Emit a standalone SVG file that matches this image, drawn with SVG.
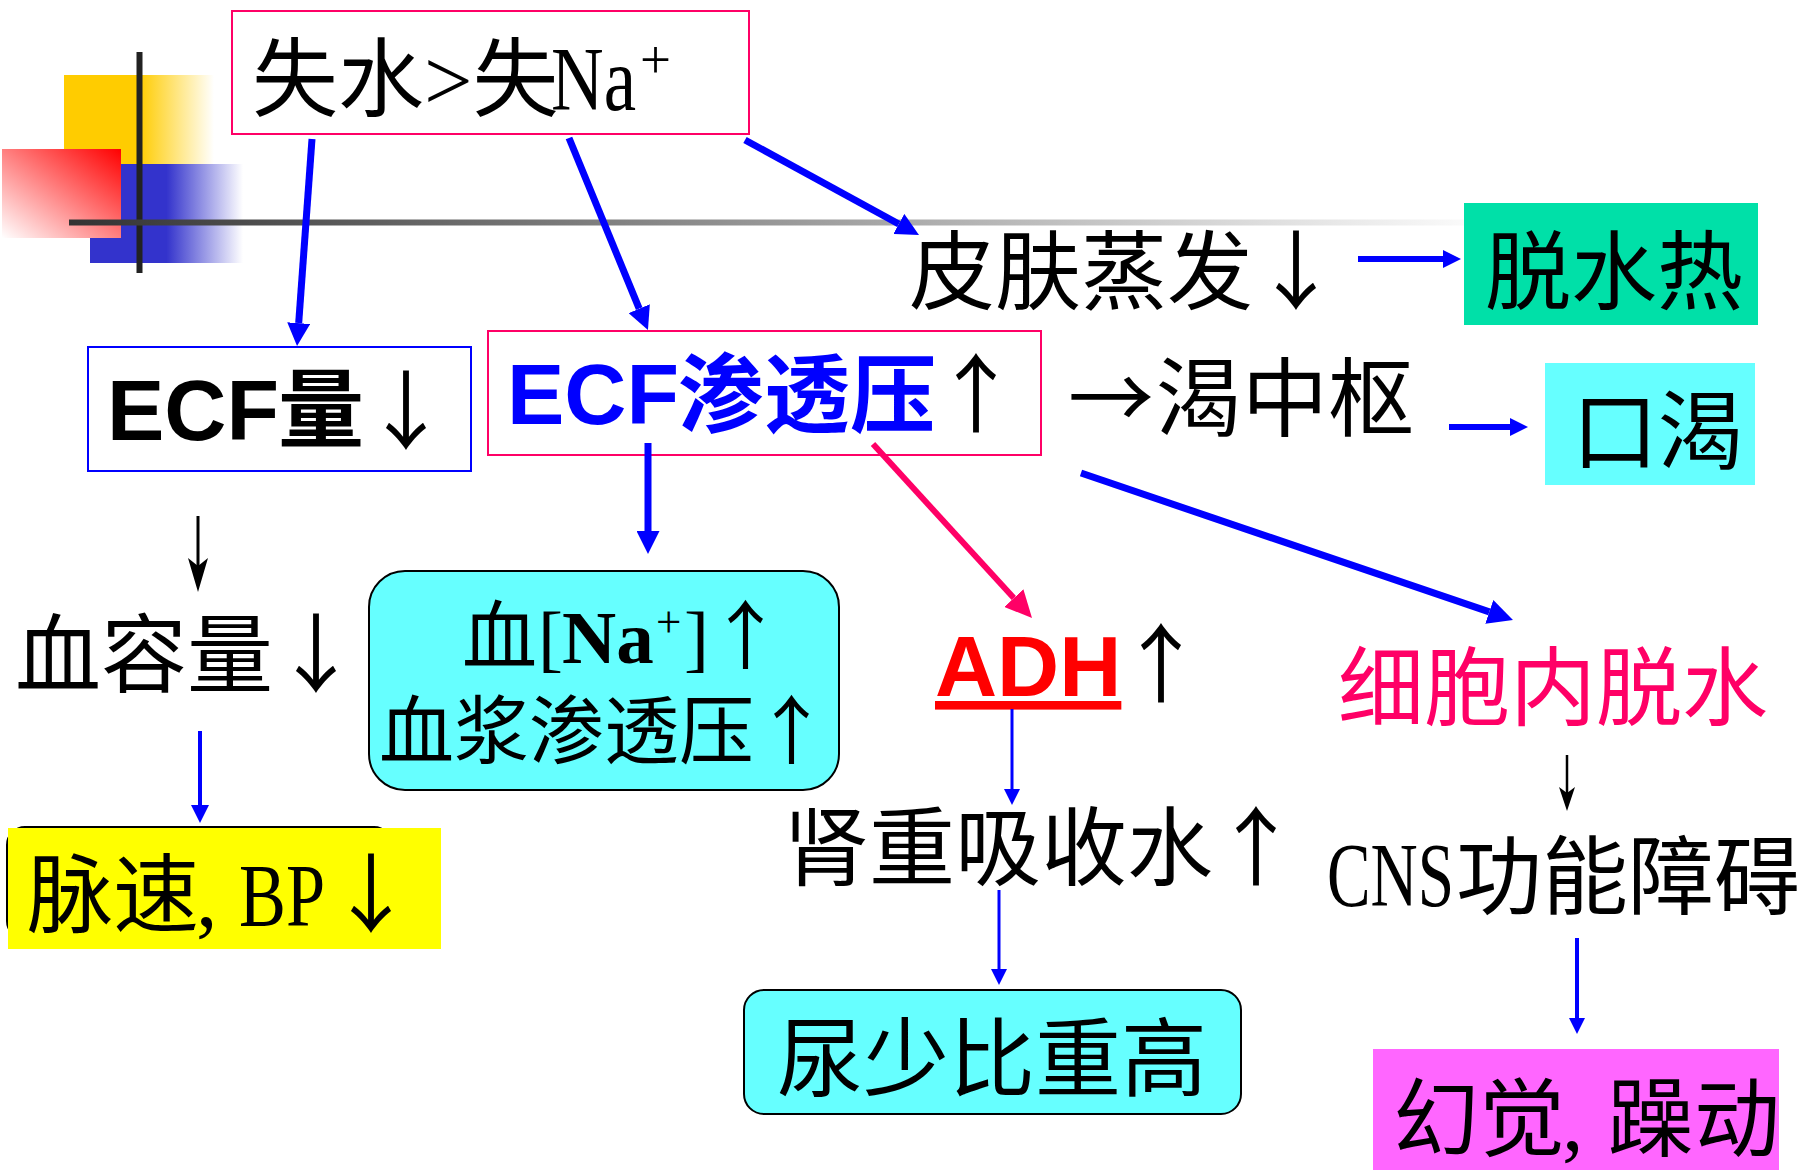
<svg xmlns="http://www.w3.org/2000/svg" width="1798" height="1170" viewBox="0 0 1798 1170">
<defs>
<style>
.t{font-family:"Liberation Serif","Noto Sans CJK SC",serif}
.b{font-family:"Liberation Sans","Noto Sans CJK SC",sans-serif;font-weight:bold}
.ar{font-family:"Noto Sans CJK SC",sans-serif;font-weight:normal;fill:#000}
.blue{stroke:#0000FF;fill:none}
.pk{stroke:#FF0066;fill:none}
.blk{stroke:#000;fill:none}
</style>
<linearGradient id="gY" x1="0" y1="0" x2="1" y2="0"><stop offset="0" stop-color="#FFCC00"/><stop offset="0.5" stop-color="#FFCC00"/><stop offset="1" stop-color="#FFFFFF"/></linearGradient>
<linearGradient id="gBl" x1="0" y1="0" x2="1" y2="0"><stop offset="0" stop-color="#3333CC"/><stop offset="0.5" stop-color="#3333CC"/><stop offset="1" stop-color="#FFFFFF"/></linearGradient>
<linearGradient id="gR" x1="0" y1="1" x2="1" y2="0"><stop offset="0" stop-color="#FFFFFF"/><stop offset="1" stop-color="#FF0000"/></linearGradient>
<linearGradient id="gL" gradientUnits="userSpaceOnUse" x1="69" y1="0" x2="1500" y2="0"><stop offset="0" stop-color="#333333"/><stop offset="1" stop-color="#FFFFFF"/></linearGradient>
<marker id="mB" markerUnits="userSpaceOnUse" markerWidth="23" markerHeight="23" viewBox="0 0 23 23" refX="0" refY="11.5" orient="auto"><path d="M0,0 L23,11.5 L0,23 Z" fill="#0000FF"/></marker>
<marker id="mBx" markerUnits="userSpaceOnUse" markerWidth="25" markerHeight="25" viewBox="0 0 25 25" refX="0" refY="12.5" orient="auto"><path d="M0,0 L25,12.5 L0,25 Z" fill="#0000FF"/></marker>
<marker id="mBs" markerUnits="userSpaceOnUse" markerWidth="18" markerHeight="18" viewBox="0 0 18 18" refX="0" refY="9" orient="auto"><path d="M0,0 L18,9 L0,18 Z" fill="#0000FF"/></marker>
<marker id="mBt" markerUnits="userSpaceOnUse" markerWidth="16" markerHeight="16" viewBox="0 0 16 16" refX="0" refY="8" orient="auto"><path d="M0,0 L16,8 L0,16 Z" fill="#0000FF"/></marker>
<marker id="mP" markerUnits="userSpaceOnUse" markerWidth="27" markerHeight="26" viewBox="0 0 27 26" refX="0" refY="13" orient="auto"><path d="M0,0 L27,13 L0,26 Z" fill="#FF0066"/></marker>
<marker id="mK" markerUnits="userSpaceOnUse" markerWidth="34" markerHeight="20" viewBox="0 0 34 20" refX="8" refY="10" orient="auto"><path d="M0,0 L34,10 L0,20 L8,10 Z" fill="#000"/></marker>
<marker id="mK2" markerUnits="userSpaceOnUse" markerWidth="24" markerHeight="16" viewBox="0 0 24 16" refX="6" refY="8" orient="auto"><path d="M0,0 L24,8 L0,16 L6,8 Z" fill="#000"/></marker>
</defs>
<rect width="1798" height="1170" fill="#FFFFFF"/>

<g id="decoration">
<rect x="64" y="75" width="150" height="150" fill="url(#gY)"/>
<rect x="90" y="164" width="153" height="99" fill="url(#gBl)"/>
<rect x="2" y="149" width="119" height="89" fill="url(#gR)"/>
<line x1="139.5" y1="52" x2="139.5" y2="273" stroke="#222" stroke-width="6"/>
<line x1="69" y1="222.5" x2="1464" y2="222.5" stroke="url(#gL)" stroke-width="6"/>
</g>

<g id="node-top">
<rect x="232" y="11" width="517" height="123" fill="#FFFFFF" stroke="#FF0066" stroke-width="2"/>
<text class="t" font-size="86"><tspan x="252" y="110">失水>失</tspan><tspan x="551" y="110" font-size="90" textLength="85" lengthAdjust="spacingAndGlyphs">Na</tspan><tspan x="640" y="78" font-size="55">+</tspan></text>
</g>

<g id="node-ecf-volume">
<rect x="88" y="347" width="383" height="124" fill="#FFFFFF" stroke="#0000FF" stroke-width="2"/>
<text class="b" font-size="86" fill="#000"><tspan x="107" y="440">ECF</tspan><tspan x="278" y="441">量</tspan><tspan class="ar" x="363" y="443">↓</tspan></text>
</g>

<g id="node-ecf-osm">
<rect x="488" y="331" width="553" height="124" fill="#FFFFFF" stroke="#FF0066" stroke-width="2"/>
<text class="b" font-size="86" fill="#0000FF"><tspan x="507" y="424">ECF</tspan><tspan x="678" y="426">渗透压</tspan><tspan class="ar" x="933" y="426">↑</tspan></text>
</g>

<g id="node-skin">
<text class="t" font-size="86"><tspan x="909" y="303">皮肤蒸发</tspan><tspan class="ar" x="1253" y="303">↓</tspan></text>
</g>

<g id="node-fever">
<rect x="1464" y="203" width="294" height="122" fill="#00E0A8"/>
<text class="t" font-size="86" x="1485" y="303">脱水热</text>
</g>

<g id="node-thirst-center">
<text class="t" font-size="86"><tspan class="ar" x="1068" y="430" font-weight="bold">→</tspan><tspan x="1156" y="430">渴中枢</tspan></text>
</g>

<g id="node-thirst">
<rect x="1545" y="363" width="210" height="122" fill="#66FFFF"/>
<text class="t" font-size="86" x="1572" y="463">口渴</text>
</g>

<g id="node-blood-volume">
<text class="t" font-size="86"><tspan x="15" y="686">血容量</tspan><tspan class="ar" x="273" y="686">↓</tspan></text>
</g>

<g id="node-plasma">
<rect x="369" y="571" width="470" height="219" rx="36" ry="36" fill="#66FFFF" stroke="#000" stroke-width="2"/>
<text class="t" font-size="75"><tspan x="462" y="663">血</tspan><tspan x="538" y="663">[</tspan><tspan x="562" y="663" font-weight="bold">Na</tspan><tspan x="656" y="637" font-size="45">+</tspan><tspan x="684" y="663">]</tspan><tspan class="ar" x="708" y="663">↑</tspan></text>
<text class="t" font-size="75"><tspan x="379" y="758">血浆渗透压</tspan><tspan class="ar" x="754" y="758">↑</tspan></text>
</g>

<g id="node-pulse">
<rect x="7" y="827" width="385" height="112" rx="18" ry="18" fill="#FFFFFF" stroke="#000" stroke-width="2"/>
<rect x="8" y="828" width="433" height="121" fill="#FFFF00"/>
<text class="t" font-size="86"><tspan x="27" y="926">脉速</tspan><tspan x="196" y="926">,</tspan><tspan x="239" y="925" font-size="88" textLength="86" lengthAdjust="spacingAndGlyphs">BP</tspan><tspan class="ar" x="328" y="926">↓</tspan></text>
</g>

<g id="node-adh">
<text class="b" font-size="86" fill="#FF0000"><tspan x="935" y="696" text-decoration="underline">ADH</tspan><tspan class="ar" x="1118" y="696">↑</tspan></text>
</g>

<g id="node-cell-dehydration">
<text class="t" font-size="86" x="1338" y="719" fill="#FF0066">细胞内脱水</text>
</g>

<g id="node-kidney">
<text class="t" font-size="86"><tspan x="783" y="879">肾重吸收水</tspan><tspan class="ar" x="1213" y="879">↑</tspan></text>
</g>

<g id="node-cns">
<text class="t" font-size="86"><tspan x="1327" y="906" font-size="90" textLength="127" lengthAdjust="spacingAndGlyphs">CNS</tspan><tspan x="1456" y="908">功能障碍</tspan></text>
</g>

<g id="node-urine">
<rect x="744" y="990" width="497" height="124" rx="20" ry="20" fill="#66FFFF" stroke="#000" stroke-width="2"/>
<text class="t" font-size="86" x="777" y="1090">尿少比重高</text>
</g>

<g id="node-hallucination">
<rect x="1373" y="1049" width="406" height="125" fill="#FF66FF"/>
<text class="t" font-size="86"><tspan x="1393" y="1150">幻觉</tspan><tspan x="1562" y="1150">,</tspan><tspan x="1608" y="1150">躁动</tspan></text>
</g>

<g id="connectors">
<line class="blue" x1="312" y1="139" x2="298.7" y2="323.1" stroke-width="7" marker-end="url(#mB)"/>
<line class="blue" x1="569" y1="138" x2="639.2" y2="308.7" stroke-width="7" marker-end="url(#mB)"/>
<line class="blue" x1="745" y1="140" x2="898.8" y2="224" stroke-width="7" marker-end="url(#mB)"/>
<line class="blue" x1="648" y1="443" x2="648" y2="531" stroke-width="7" marker-end="url(#mB)"/>
<line class="blue" x1="1358" y1="259" x2="1443" y2="259" stroke-width="6" marker-end="url(#mBs)"/>
<line class="blue" x1="1449" y1="427" x2="1510" y2="427" stroke-width="6" marker-end="url(#mBs)"/>
<line class="blue" x1="1081" y1="473" x2="1489.3" y2="611.9" stroke-width="7" marker-end="url(#mBx)"/>
<line class="pk" x1="873" y1="444" x2="1013.8" y2="598.1" stroke-width="6" marker-end="url(#mP)"/>
<line class="blk" x1="198" y1="516" x2="198" y2="566" stroke-width="3" marker-end="url(#mK)"/>
<line class="blue" x1="200" y1="731" x2="200" y2="805" stroke-width="4" marker-end="url(#mBs)"/>
<line class="blue" x1="1012" y1="709" x2="1012" y2="789" stroke-width="3" marker-end="url(#mBt)"/>
<line class="blue" x1="999" y1="890" x2="999" y2="969" stroke-width="3" marker-end="url(#mBt)"/>
<line class="blk" x1="1567" y1="755" x2="1567" y2="793" stroke-width="2.5" marker-end="url(#mK2)"/>
<line class="blue" x1="1577" y1="938" x2="1577" y2="1018" stroke-width="4" marker-end="url(#mBt)"/>
</g>
</svg>
